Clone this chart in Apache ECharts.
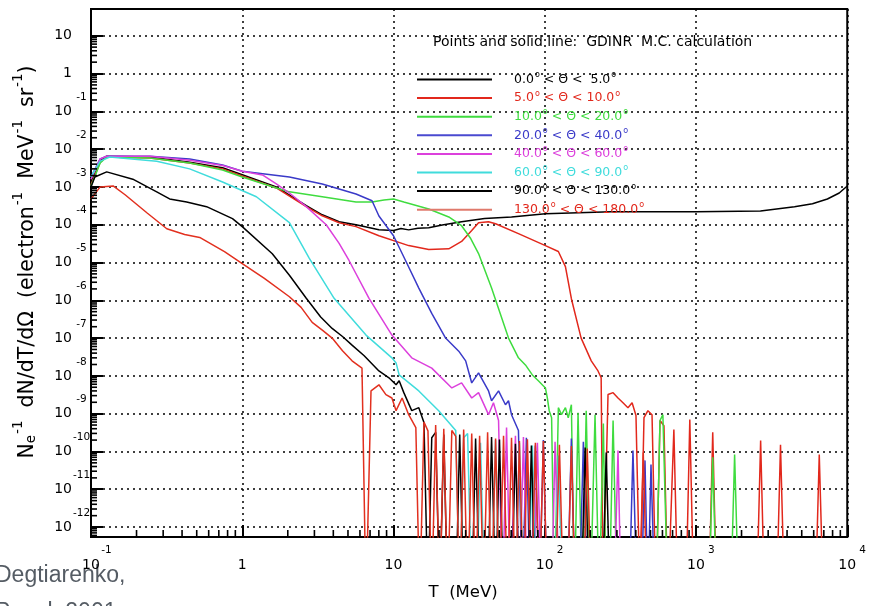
<!DOCTYPE html>
<html>
<head>
<meta charset="utf-8">
<title>GDINR M.C. calculation</title>
<script src="https://cdn.jsdelivr.net/npm/echarts@6/dist/echarts.min.js"></script>
<style>
  html, body { margin: 0; padding: 0; background: #fff; }
  #chart { width: 869px; height: 606px; }
</style>
</head>
<body>
<div id="chart"></div>
<script>
// empty bin: below the bottom of the axis, so the line dives out of the frame
var Z = 1e-14

var angleLow = ['0.0', '5.0', '10.0', '20.0', '40.0', '60.0', '90.0', '130.0']
var angleHigh = [' 5.0', '10.0', '20.0', '40.0', '60.0', '90.0', '130.0', '180.0']
var lineColors = ['#000000', '#e2281c', '#3fdc3f', '#3a3ac8', '#dc40dc', '#40dcdc', '#000000', '#e2301f']
var textColors = ['#000000', '#e2281c', '#3fdc3f', '#3a3ac8', '#dc40dc', '#40dcdc', '#000000', '#e2281c']
var legendLineColors = ['#000000', '#e2281c', '#3fdc3f', '#4a4ad0', '#dc40dc', '#40dcdc', '#000000', '#e07a6c']

var xTicks = [0.1, 1, 10, 100, 1000, 10000]
var yTicks = [1e-12, 1e-11, 1e-10, 1e-9, 1e-8, 1e-7, 1e-6, 1e-5, 1e-4, 1e-3, 1e-2, 1e-1, 1, 10]
var xRange = [0.1, 10000]
var yRange = [5.45e-13, 51]

// [T (MeV), N_e^-1 dN/dT/dOmega]
var theta0to5 = [
  [0.1, 1.35e-3], [0.115, 4.8e-3], [0.127, 6.5e-3], [0.245, 6.2e-3], [0.449, 4.5e-3],
  [0.741, 3.2e-3], [1.0, 2.1e-3], [1.68, 1.0e-3], [2.65, 3.2e-4], [3.38, 1.83e-4],
  [4.37, 1.2e-4], [5.65, 1.0e-4], [8.01, 7.4e-5], [10, 7.0e-5], [11.2, 7.9e-5],
  [12.6, 7.3e-5], [14.5, 8.1e-5], [17.1, 8.3e-5], [21, 9.8e-5], [28.2, 1.2e-4],
  [40, 1.45e-4], [60.3, 1.6e-4], [101, 1.95e-4], [275, 2.2e-4], [1000, 2.2e-4],
  [2670, 2.3e-4], [4480, 3.0e-4], [5890, 3.6e-4], [7390, 4.8e-4], [8850, 6.9e-4],
  [10000, 1.06e-3]
]

var theta5to10 = [
  [0.1, 1.13e-3], [0.115, 4.5e-3], [0.127, 6.2e-3], [0.245, 5.8e-3], [0.449, 4.3e-3],
  [0.741, 3.0e-3], [1.0, 1.95e-3], [1.68, 9.4e-4], [2.65, 3.0e-4], [3.38, 1.72e-4],
  [4.37, 1.13e-4], [5.65, 8.9e-5], [8.01, 5.1e-5], [12.6, 2.8e-5], [17.1, 2.2e-5],
  [23.2, 2.3e-5], [28.2, 3.6e-5], [32.9, 7.0e-5], [36.5, 1.13e-4], [42.5, 1.2e-4],
  [47.3, 1.06e-4], [67, 5.8e-5], [101, 2.8e-5], [123, 1.95e-5], [137, 7.8e-6],
  [150, 1.1e-6], [174, 1e-7], [203, 2.5e-8], [225, 1.35e-8], [236, 8.9e-9],
  [243, Z], [262, 3.2e-9], [283, 3.6e-9], [305, 2.6e-9], [329, 1.95e-9], [355, 1.44e-9],
  [378, 1.95e-9], [401, 8.9e-10], [427, Z], [453, 7.8e-10], [481, 1.2e-9], [512, 9.4e-10],
  [544, Z], [578, 6.6e-10], [614, 4.8e-10], [652, Z], [714, 3.8e-10], [759, Z],
  [857, Z], [910, 7.0e-10], [968, Z], [1215, Z], [1290, 3.2e-10], [1370, Z],
  [2515, Z], [2675, 1.95e-10], [2840, Z], [3405, Z], [3620, 1.5e-10], [3850, Z],
  [6150, Z], [6530, 8.3e-11], [6950, Z]
]

var theta10to20 = [
  [0.1, 1.06e-3], [0.115, 4.3e-3], [0.127, 6.2e-3], [0.245, 5.8e-3], [0.449, 4.3e-3],
  [0.741, 2.8e-3], [1.0, 1.83e-3], [1.68, 9.4e-4], [2.05, 7.4e-4], [3.38, 5.5e-4],
  [5.65, 4.0e-4], [7.21, 4.0e-4], [8.65, 4.5e-4], [10, 4.8e-4], [11.7, 4.0e-4],
  [17.1, 2.6e-4], [23.2, 1.6e-4], [28.2, 9.4e-5], [32.4, 4.3e-5], [36.5, 1.72e-5],
  [44.5, 2.1e-6], [57.6, 1e-7], [67, 3.0e-8], [74.5, 1.95e-8], [82.8, 1.06e-8],
  [90.7, 7.4e-9], [101, 4.8e-9], [104, 2.6e-9], [107, 1.2e-9],
  [111, 7.8e-10], [116, Z], [123, 1.44e-9], [129, 9.4e-10], [137, 1.44e-9], [143, 7.8e-10],
  [150, 1.72e-9], [157, Z], [166, 1.06e-9], [177, Z], [188, 1.2e-9], [200, Z],
  [215, 9.4e-10], [229, Z], [244, 5.5e-10], [255, Z], [267, Z], [283, 6.6e-10], [301, Z],
  [544, Z], [578, 6.6e-10], [604, 9.4e-10], [652, Z], [1215, Z], [1290, 7.0e-11], [1370, Z],
  [1695, Z], [1800, 8.3e-11], [1915, Z]
]

var theta20to40 = [
  [0.1, 1.83e-3], [0.115, 5.5e-3], [0.127, 6.5e-3], [0.245, 6.5e-3], [0.449, 5.5e-3],
  [0.741, 3.8e-3], [1.0, 2.6e-3], [2.05, 1.83e-3], [3.38, 1.2e-3], [5.65, 6.5e-4],
  [7.21, 4.3e-4], [8.01, 1.7e-4], [10, 5.1e-5], [12.1, 1.06e-5], [14.7, 2.1e-6],
  [17.9, 4.5e-7], [22.1, 1e-7], [27, 4.5e-8], [30, 2.5e-8], [32.9, 6.5e-9],
  [36.5, 1.2e-8], [42.5, 4.0e-9], [44.5, 2.2e-9], [49.5, 4.0e-9], [55, 1.72e-9],
  [57.6, 2.2e-9], [60.3, 9.4e-10], [67, 3.6e-10],
  [71.2, Z], [75.6, 2.3e-10], [80.4, Z], [86.7, 1.44e-10], [92.1, Z], [97.9, 2.0e-10],
  [104, Z], [141, Z], [150, 2.2e-10], [159, Z], [169, Z], [180, 1.8e-10], [191, Z],
  [361, Z], [383, 1.06e-10], [408, Z], [433, Z], [460, 5.8e-11], [481, Z],
  [504, 4.5e-11], [535, Z]
]

var theta40to60 = [
  [0.1, 1.6e-3], [0.115, 5.5e-3], [0.127, 6.5e-3], [0.245, 6.5e-3], [0.449, 5.1e-3],
  [0.741, 3.7e-3], [1.0, 2.6e-3], [1.36, 2.07e-3], [1.68, 1.2e-3], [2.05, 6.9e-4],
  [2.65, 3.0e-4], [3.59, 1.0e-4], [4.37, 3.2e-5], [5.08, 1.13e-5], [6.89, 1.13e-6],
  [9.76, 1.2e-7], [13.2, 3.0e-8], [17.9, 1.6e-8], [24.3, 4.8e-9], [28.2, 6.5e-9],
  [32.9, 2.6e-9], [36.5, 3.6e-9], [42.5, 9.4e-10], [45.8, 1.95e-9], [49.5, 6.6e-10],
  [52.6, Z], [55.9, 4.3e-10], [59.4, Z], [64, 2.6e-10], [68, Z], [72.3, 2.4e-10],
  [76.8, Z], [84.1, Z], [89.4, 1.7e-10], [95, Z], [111, Z], [117, 1.8e-10], [125, Z],
  [287, Z], [305, 1.06e-10], [320, Z]
]

var theta60to90 = [
  [0.1, 1.83e-3], [0.115, 4.8e-3], [0.133, 6.2e-3], [0.272, 4.8e-3], [0.449, 3.0e-3],
  [0.741, 1.35e-3], [1.24, 5.5e-4], [2.05, 1.13e-4], [2.77, 1.3e-5], [4.05, 1.13e-6],
  [6.58, 1.2e-7], [9.76, 3.0e-8], [10.4, 2.2e-8], [10.9, 1.06e-8], [14.7, 4.0e-9],
  [19.9, 1.2e-9], [25.8, 3.6e-10],
  [27.4, Z], [29.1, 2.3e-10], [30.9, 3.0e-10], [32.9, Z], [35.4, Z], [37.6, 1.7e-10],
  [40, Z], [44.5, Z], [47.3, 2.0e-10], [50.2, Z], [64, Z], [68, 1.7e-10], [72.3, Z],
  [78, Z], [82.8, 1.44e-10], [88.1, Z], [116, Z], [123, 7.8e-11], [131, Z]
]

var theta90to130 = [
  [0.1, 1.0e-3], [0.106, 1.83e-3], [0.127, 2.5e-3], [0.189, 1.6e-3], [0.272, 7.4e-4],
  [0.331, 4.8e-4], [0.429, 4.0e-4], [0.581, 3.0e-4], [0.862, 1.45e-4], [1.0, 8.9e-5],
  [1.58, 1.7e-5], [2.05, 4.6e-6], [2.65, 1.13e-6], [3.3, 3.6e-7], [3.93, 1.8e-7],
  [4.6, 1.1e-7], [5.32, 6.5e-8], [6.4, 3.4e-8], [8.01, 1.35e-8], [9.33, 8.9e-9],
  [10.4, 5.8e-9], [10.9, 7.4e-9], [11.7, 3.6e-9], [13.2, 1.2e-9], [14.7, 1.44e-9],
  [15.9, 5.8e-10],
  [16.9, Z], [17.9, 2.3e-10], [19, 3.2e-10], [20.2, Z], [21.5, 2.8e-10], [22.8, Z],
  [25.8, Z], [27.4, 2.8e-10], [29.1, Z], [32.9, Z], [34.9, 2.2e-10], [37.1, Z],
  [41.9, Z], [44.5, 2.4e-10], [47.3, Z], [50.2, 2.07e-10], [53.4, Z], [60.3, Z],
  [64, 1.6e-10], [68, Z], [76.8, Z], [81.6, 1.44e-10], [86.7, Z], [174, Z],
  [185, 1.27e-10], [197, Z], [240, Z], [255, 9.4e-11], [270, Z]
]

var theta130to180 = [
  [0.1, 4.8e-4], [0.115, 1.0e-3], [0.14, 1.06e-3], [0.168, 6.2e-4], [0.234, 2.07e-4],
  [0.317, 7.8e-5], [0.416, 5.5e-5], [0.523, 4.6e-5], [0.763, 1.95e-5], [1.0, 9.4e-6],
  [1.4, 3.8e-6], [2.05, 1.24e-6], [2.45, 6.5e-7], [2.9, 2.6e-7], [3.4, 1.6e-7],
  [3.93, 1e-7], [4.6, 4.6e-8], [5.32, 2.5e-8], [6.19, 1.6e-8],
  [6.58, Z], [7.1, 4.0e-9], [8.01, 5.8e-9], [8.91, 3.2e-9], [9.76, 2.6e-9], [10.4, 1.2e-9],
  [11.4, 2.6e-9], [12.6, 9.4e-10], [14.05, 4.3e-10],
  [14.9, Z], [15.9, 6.0e-10], [16.9, 3.5e-10], [17.9, Z], [19.0, 5.0e-10], [20.2, Z],
  [21.5, 4.0e-10], [22.8, Z], [24.3, 3.6e-10], [25.8, 2.5e-10], [27.4, Z], [29.1, 3.8e-10],
  [30.9, Z], [32.9, 3.0e-10], [34.9, Z], [37.1, 2.6e-10], [39.4, Z], [41.9, 3.2e-10],
  [44.5, Z], [47.3, 2.2e-10], [50.2, Z], [53.4, 2.6e-10], [56.7, Z], [60.3, 2.3e-10],
  [64, Z], [68, 1.9e-10], [72.3, Z], [76.8, 2.1e-10], [81.6, Z], [86.7, 1.7e-10],
  [92.1, Z], [97.9, 1.9e-10], [104, Z], [117, Z], [125, 1.5e-10], [133, Z], [141, Z],
  [150, 1.4e-10], [159, Z], [180, Z], [191, 1.2e-10], [203, Z], [421, Z],
  [448, 9.4e-11], [475, Z]
]

var seriesData = [theta0to5, theta5to10, theta10to20, theta20to40,
  theta40to60, theta60to90, theta90to130, theta130to180]

var FONT = 'DejaVu Sans'

// minor ticks at 2..9 within each decade
function minorTicks(majors) {
  var out = []
  for (var i = 0; i < majors.length - 1; i++) {
    for (var k = 2; k <= 9; k++) out.push(majors[i] * k)
  }
  return out
}
var xMinor = minorTicks(xTicks)
var yMinor = minorTicks([1e-13].concat(yTicks)).filter(function(v) { return v > yRange[0] && v < yRange[1] })

function decade(v) {
  var e = Math.log10(v)
  var n = Math.round(e)
  return Math.abs(e - n) < 0.01 ? n : null
}

var chart = echarts.init(document.getElementById('chart'))

var names = angleLow.map(function(lo, i) { return lo + '-' + angleHigh[i] })

var lineSeries = seriesData.map(function(d, i) {
  return {
    name: names[i],
    type: 'line',
    data: d,
    showSymbol: false,
    symbol: 'none',
    clip: true,
    lineStyle: { color: lineColors[i], width: 1.5 },
    itemStyle: { color: lineColors[i] }
  }
})

// inward tick marks: a scatter of short bars sitting on the bottom and left axes
function tickBars(values, onX, len) {
  return {
    type: 'scatter',
    silent: true,
    clip: false,
    z: 10,
    symbol: 'rect',
    symbolSize: onX ? [1.6, len] : [len, 1.6],
    symbolOffset: onX ? [0, -len / 2] : [len / 2, 0],
    itemStyle: { color: '#000', opacity: 1 },
    data: values.map(function(v) { return onX ? [v, yRange[0]] : [xRange[0], v] })
  }
}

chart.setOption({
  animation: false,
  textStyle: { fontFamily: FONT },
  title: {
    text: 'Points and solid line:  GDINR  M.C. calculation',
    left: 428,
    top: 30,
    textStyle: { fontSize: 14, fontWeight: 'normal', color: '#000', fontFamily: FONT }
  },
  grid: {
    left: 91, right: 19, top: 9, bottom: 66,
    show: true, borderColor: '#000', borderWidth: 2, backgroundColor: '#fff'
  },
  legend: {
    orient: 'vertical',
    left: 412,
    top: 66,
    itemWidth: 75,
    itemHeight: 2,
    itemGap: 3.6,
    icon: 'rect',
    selectedMode: false,
    data: names.map(function(n, i) {
      return {
        name: n,
        itemStyle: { color: legendLineColors[i] },
        textStyle: { color: textColors[i] }
      }
    }),
    formatter: function(name) {
      var i = names.indexOf(name)
      return '{g| }{n|' + angleLow[i] + '}{o|o}{n| < \u0398 < ' + angleHigh[i] + '}{o|o}'
    },
    textStyle: {
      fontFamily: FONT,
      rich: {
        g: { width: 17 },
        n: { fontSize: 12.5, fontFamily: FONT },
        o: { fontSize: 8, fontFamily: FONT, padding: [0, 0, 9, 1] }
      }
    }
  },
  xAxis: {
    type: 'log',
    min: xRange[0],
    max: xRange[1],
    name: 'T  (MeV)',
    nameLocation: 'middle',
    nameGap: 47,
    nameTextStyle: { fontSize: 16.5, color: '#000', fontFamily: FONT, padding: [0, 12, 0, 0] },
    axisLine: { show: true, lineStyle: { color: '#000', width: 2 } },
    axisTick: { show: true, inside: true, length: 12, lineStyle: { color: '#000', width: 2 }, customValues: xTicks },
    splitLine: { show: true, lineStyle: { color: '#000', type: [2, 4], width: 1.5 } },
    axisLabel: {
      margin: 8,
      color: '#000',
      customValues: xTicks,
      formatter: function(v) {
        var n = decade(v)
        if (n === null) return ''
        if (n === 0) return '{p| }{b|1}{e| }'
        if (n === 1) return '{p| }{b|10}{e| }'
        return '{p| }{b|10}{e|' + n + '}'
      },
      rich: {
        p: { width: 13 },
        b: { fontSize: 14, fontFamily: FONT, color: '#000' },
        e: { fontSize: 10.5, fontFamily: FONT, color: '#000', width: 13, align: 'left', padding: [0, 0, 30, 0] }
      }
    }
  },
  yAxis: {
    type: 'log',
    min: yRange[0],
    max: yRange[1],
    axisLine: { show: true, lineStyle: { color: '#000', width: 2 } },
    axisTick: { show: true, inside: true, length: 12, lineStyle: { color: '#000', width: 2 }, customValues: yTicks },
    splitLine: { show: true, lineStyle: { color: '#000', type: [2, 4], width: 1.5 } },
    axisLabel: {
      margin: 2,
      color: '#000',
      customValues: yTicks,
      formatter: function(v) {
        var n = decade(v)
        if (n === null) return ''
        if (n === 0) return '{b|1}{p| }'
        if (n === 1) return '{b|10}{p| }'
        return '{b|10}{e|' + n + '}'
      },
      rich: {
        p: { width: 17 },
        b: { fontSize: 14, fontFamily: FONT, color: '#000' },
        e: { fontSize: 10.5, fontFamily: FONT, color: '#000', width: 15, align: 'left', padding: [0, 0, 28, 2] }
      }
    }
  },
  graphic: [
    {
      type: 'text',
      x: 28,
      y: 262,
      rotation: Math.PI / 2,
      style: {
        text: '{t|N}{s|e}{u|-1}{t|  dN/dT/d\u03A9  (electron}{u|-1}{t|  MeV}{u|-1}{t|  sr}{u|-1}{t|)}',
        align: 'center',
        verticalAlign: 'middle',
        fill: '#000',
        rich: {
          t: { fontSize: 20.5, fontFamily: FONT, fill: '#000' },
          s: { fontSize: 13.5, fontFamily: FONT, fill: '#000', padding: [7, 0, 0, 0] },
          u: { fontSize: 13.5, fontFamily: FONT, fill: '#000', padding: [0, 0, 20, 1] }
        }
      }
    },
    {
      type: 'rect',
      shape: { x: 0, y: 556, width: 152, height: 50 },
      style: { fill: '#fff' }
    },
    {
      type: 'text',
      x: -5,
      y: 557,
      style: {
        text: 'Degtiarenko,\nPavel, 2001',
        fontSize: 23,
        fontFamily: 'Liberation Sans',
        lineHeight: 37,
        fill: '#555c64'
      }
    }
  ],
  series: lineSeries.concat([
    tickBars(xMinor, true, 7),
    tickBars(yMinor, false, 6)
  ])
})
</script>
</body>
</html>
